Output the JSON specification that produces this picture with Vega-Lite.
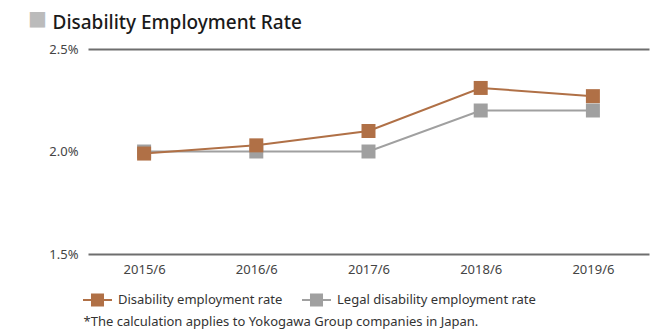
{
  "$schema": "https://vega.github.io/schema/vega-lite/v6.json",
  "width": 561,
  "height": 205,
  "autosize": {"type": "none"},
  "padding": {"left": 88, "top": 49, "right": 9, "bottom": 78},
  "background": "white",
  "config": {
    "font": "Noto Sans",
    "view": {"stroke": null}
  },
  "title": {
    "text": "■",
    "anchor": "start",
    "frame": "group",
    "orient": "none",
    "baseline": "alphabetic",
    "align": "left",
    "dx": -60,
    "dy": -24,
    "fontSize": 20,
    "fontWeight": "normal",
    "color": "#bbbbbb",
    "font": "DejaVu Sans"
  },
  "data": {
    "values": [
      {"year": "2015/6", "series": "Legal disability employment rate", "rate": 2.0},
      {"year": "2016/6", "series": "Legal disability employment rate", "rate": 2.0},
      {"year": "2017/6", "series": "Legal disability employment rate", "rate": 2.0},
      {"year": "2018/6", "series": "Legal disability employment rate", "rate": 2.2},
      {"year": "2019/6", "series": "Legal disability employment rate", "rate": 2.2},
      {"year": "2015/6", "series": "Disability employment rate", "rate": 1.99},
      {"year": "2016/6", "series": "Disability employment rate", "rate": 2.03},
      {"year": "2017/6", "series": "Disability employment rate", "rate": 2.10},
      {"year": "2018/6", "series": "Disability employment rate", "rate": 2.31},
      {"year": "2019/6", "series": "Disability employment rate", "rate": 2.27}
    ]
  },
  "mark": {
    "type": "line",
    "strokeWidth": 2,
    "point": {"shape": "square", "size": 196, "filled": true, "opacity": 1}
  },
  "encoding": {
    "x": {
      "field": "year",
      "type": "ordinal",
      "scale": {"type": "point", "padding": 0.5},
      "axis": {
        "title": "*The calculation applies to Yokogawa Group companies in Japan.",
        "titleX": -5,
        "titleY": 71,
        "titleAlign": "left",
        "titleBaseline": "alphabetic",
        "titleFontSize": 13,
        "titleFontWeight": "normal",
        "titleColor": "#333",
        "labelAngle": 0,
        "labelFontSize": 13,
        "labelColor": "#444",
        "labelPadding": 9,
        "ticks": false,
        "domain": false,
        "grid": false
      }
    },
    "y": {
      "field": "rate",
      "type": "quantitative",
      "scale": {"domain": [1.5, 2.5], "zero": false, "nice": false},
      "axis": {
        "values": [1.5, 2.0, 2.5],
        "labelExpr": "format(datum.value, '.1f') + '%'",
        "labelFontSize": 13,
        "labelColor": "#444",
        "labelPadding": 10,
        "ticks": false,
        "domain": false,
        "grid": true,
        "gridColor": {"condition": {"test": "datum.value == 2", "value": "transparent"}, "value": "#6e6e6e"},
        "gridWidth": 2,
        "title": "Disability Employment Rate",
        "titleColor": "#1a1a1a",
        "titleFontSize": 19,
        "titleFontWeight": 500,
        "titleAngle": 0,
        "titleX": -36,
        "titleY": -21,
        "titleAlign": "left",
        "titleBaseline": "alphabetic"
      }
    },
    "color": {
      "field": "series",
      "type": "nominal",
      "scale": {
        "domain": ["Disability employment rate", "Legal disability employment rate"],
        "range": ["#b07046", "#a0a0a0"]
      },
      "legend": {
        "title": null,
        "orient": "none",
        "direction": "horizontal",
        "legendX": -6,
        "legendY": 235,
        "padding": 0,
        "symbolType": "M-1,0H-0.38M0.38,0H1M-0.38,-0.38H0.38V0.38H-0.38Z",
        "symbolSize": 841,
        "symbolStrokeWidth": 2,
        "symbolOpacity": 1,
        "labelFontSize": 13,
        "labelColor": "#333",
        "labelOffset": 5,
        "labelLimit": 0,
        "columnPadding": 15,
        "encode": {
          "symbols": {
            "update": {
              "fill": {"scale": "color", "field": "value"},
              "stroke": {"scale": "color", "field": "value"},
              "fillOpacity": {"value": 1}
            }
          }
        }
      }
    }
  }
}
